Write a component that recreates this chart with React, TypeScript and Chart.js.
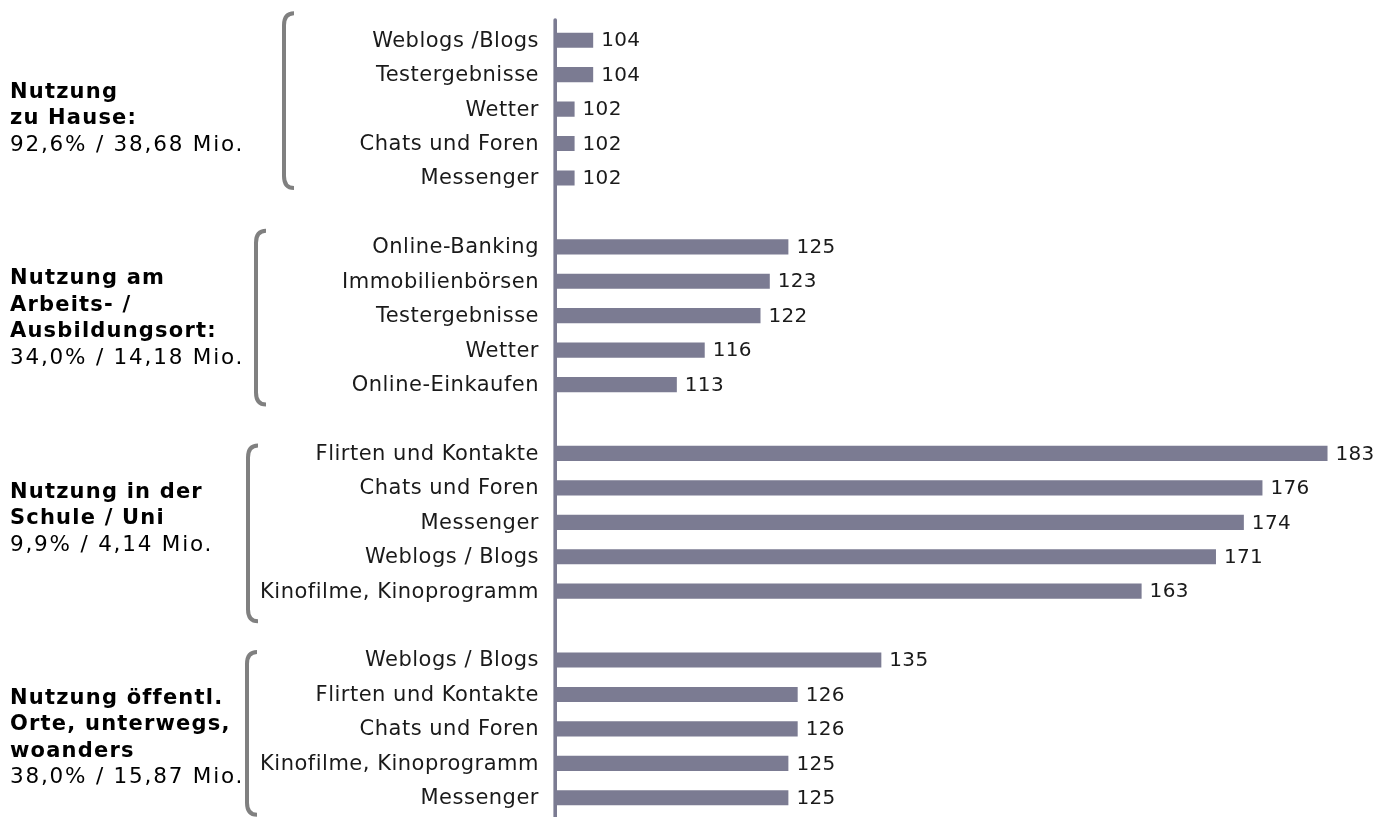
import React, { useEffect, useRef } from "react";
import { Chart, registerables } from "chart.js";

Chart.register(...registerables);

const categories: string[] = [
  "Weblogs /Blogs", "Testergebnisse", "Wetter", "Chats und Foren", "Messenger", "",
  "Online-Banking", "Immobilienbörsen", "Testergebnisse", "Wetter", "Online-Einkaufen", "",
  "Flirten und Kontakte", "Chats und Foren", "Messenger", "Weblogs / Blogs", "Kinofilme, Kinoprogramm", "",
  "Weblogs / Blogs", "Flirten und Kontakte", "Chats und Foren", "Kinofilme, Kinoprogramm", "Messenger",
];

const values: (number | null)[] = [
  104, 104, 102, 102, 102, null,
  125, 123, 122, 116, 113, null,
  183, 176, 174, 171, 163, null,
  135, 126, 126, 125, 125,
];

const groupTitles: string[][] = [
  ["Nutzung", "zu Hause:"],
  ["Nutzung am", "Arbeits- /", "Ausbildungsort:"],
  ["Nutzung in der", "Schule / Uni"],
  ["Nutzung öffentl.", "Orte, unterwegs,", "woanders"],
];
const groupShares: string[] = [
  "92,6% / 38,68 Mio.",
  "34,0% / 14,18 Mio.",
  "9,9% / 4,14 Mio.",
  "38,0% / 15,87 Mio.",
];
const groupRanges: [number, number][] = [
  [0, 4],
  [6, 10],
  [12, 16],
  [18, 22],
];

// layout/styling (not data)
const BAR_COLOR = "rgb(123,123,146)";
const FONT = "'DejaVu Sans', Verdana, sans-serif";
const TEXT_FIRST_OFFSET = [-11.5, -31.5, -24.5, -25];
const LINE_H = 26.5;
const BRACKET_X = [284, 256, 248, 247];
const BRACKET_TOP = [-27, -16, -8, -8];
const BRACKET_BOTTOM = [10, 20, 30, 17];

const overlay = {
  id: "overlay",
  afterDatasetsDraw(chart: any) {
    const ctx = chart.ctx as CanvasRenderingContext2D;
    const y = chart.scales.y;
    const x = chart.scales.x;
    const left = chart.chartArea.left;
    ctx.save();

    // axis line
    ctx.strokeStyle = BAR_COLOR;
    ctx.lineWidth = 3.6;
    ctx.lineCap = "round";
    ctx.beginPath();
    ctx.moveTo(left - 0.8, 20);
    ctx.lineTo(left - 0.8, chart.height + 5);
    ctx.stroke();

    // category labels
    (ctx as any).letterSpacing = "0.5px";
    ctx.font = `21px ${FONT}`;
    ctx.fillStyle = "#1a1a1a";
    ctx.textAlign = "right";
    ctx.textBaseline = "middle";
    categories.forEach((c, i) => {
      if (!c) return;
      ctx.fillText(c, left - 17, y.getPixelForValue(i) + 1);
    });

    // value labels
    ctx.textAlign = "left";
    ctx.font = `20px ${FONT}`;
    (ctx as any).letterSpacing = "0.3px";
    values.forEach((v, i) => {
      if (v == null) return;
      ctx.fillText(String(v), x.getPixelForValue(v) + 8, y.getPixelForValue(i) + 1);
    });

    // group texts + brackets
    groupRanges.forEach(([a, b], g) => {
      const top = y.getPixelForValue(a);
      const bot = y.getPixelForValue(b);
      const center = (top + bot) / 2;
      let yy = center + TEXT_FIRST_OFFSET[g];
      ctx.textAlign = "left";
      ctx.textBaseline = "alphabetic";
      ctx.fillStyle = "#000";
      (ctx as any).letterSpacing = "1.2px";
      ctx.font = `bold 21px ${FONT}`;
      groupTitles[g].forEach((t) => {
        ctx.fillText(t, 10, yy);
        yy += LINE_H;
      });
      ctx.font = `21.5px ${FONT}`;
      (ctx as any).letterSpacing = "1.8px";
      ctx.fillText(groupShares[g], 10, yy);

      const bx = BRACKET_X[g];
      const bt = top + BRACKET_TOP[g];
      const bb = bot + BRACKET_BOTTOM[g];
      ctx.strokeStyle = "rgb(128,128,128)";
      ctx.lineWidth = 4;
      ctx.lineCap = "butt";
      ctx.beginPath();
      ctx.moveTo(bx + 10, bt);
      ctx.quadraticCurveTo(bx, bt, bx, bt + 12);
      ctx.lineTo(bx, bb - 12);
      ctx.quadraticCurveTo(bx, bb, bx + 10, bb);
      ctx.stroke();
    });

    ctx.restore();
  },
};

export default function App() {
  const ref = useRef<HTMLCanvasElement | null>(null);
  useEffect(() => {
    document.body.style.margin = "0";
    const chart = new Chart(ref.current as HTMLCanvasElement, {
      type: "bar",
      data: {
        labels: categories,
        datasets: [
          {
            data: values as any,
            backgroundColor: BAR_COLOR,
            borderWidth: 0,
            categoryPercentage: 1,
            barPercentage: 0.44,
          },
        ],
      },
      options: {
        indexAxis: "y",
        animation: false,
        responsive: false,
        maintainAspectRatio: false,
        layout: { padding: { left: 556, right: 16, top: 23, bottom: 2 } },
        plugins: { legend: { display: false }, tooltip: { enabled: false } },
        scales: {
          x: { display: false, min: 100, max: 188 },
          y: { display: false, offset: true },
        },
      },
      plugins: [overlay],
    });
    return () => chart.destroy();
  }, []);
  return <canvas ref={ref} width={1390} height={817} style={{ display: "block" }} />;
}
